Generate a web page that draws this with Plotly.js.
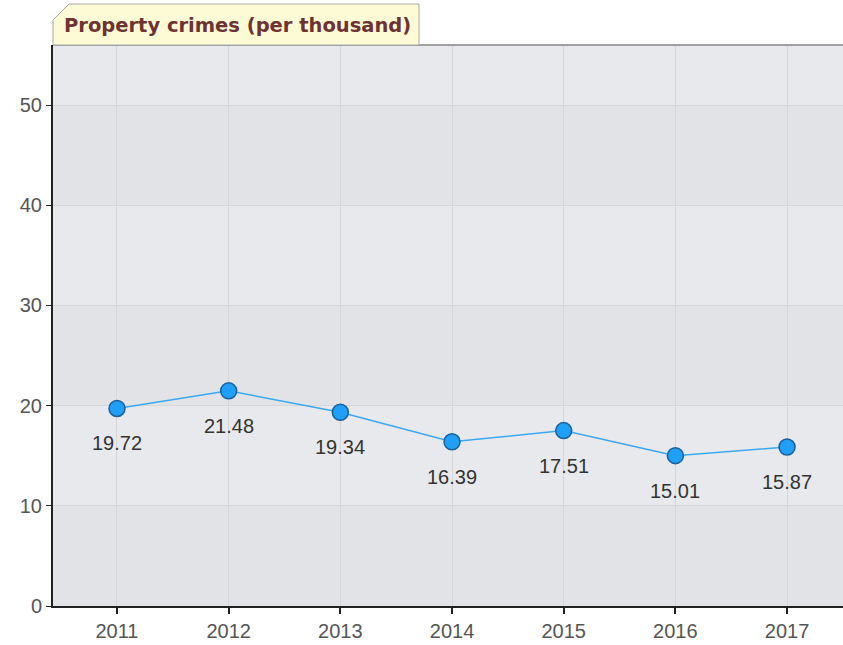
<!DOCTYPE html>
<html>
<head>
<meta charset="utf-8">
<script src="https://cdn.plot.ly/plotly-3.0.1.min.js"></script>
<style>html,body{margin:0;padding:0;background:#fff;}#chart{width:843px;height:645px;}</style>
</head>
<body>
<div id="chart"></div>
<script>
const years = [2011, 2012, 2013, 2014, 2015, 2016, 2017];
const values = [19.72, 21.48, 19.34, 16.39, 17.51, 15.01, 15.87];
const labels = ["19.72", "21.48", "19.34", "16.39", "17.51", "15.01", "15.87"];
const yTicks = [0, 10, 20, 30, 40, 50];
const chartTitle = "Property crimes (per thousand)";

const W = 843, H = 645, L = 53, R = 0, T = 45, B = 39;
const pw = W - L - R, ph = H - T - B;
const px = x => (x - L) / pw;
const py = y => (H - B - y) / ph;

const shapes = [];
[[0,10],[20,30],[40,50]].forEach(b => shapes.push({
  type:'rect', xref:'paper', yref:'y', x0:0, x1:1, y0:b[0], y1:b[1],
  fillcolor:'#e2e3e6', line:{width:0}, layer:'below'
}));
shapes.push({type:'line', xref:'paper', yref:'paper', x0:0, x1:1, y0:1, y1:1, line:{color:'#a0a0a0', width:2}});
const tab = `M ${px(53)},${py(45)} L ${px(53)},${py(20)} L ${px(69)},${py(4)} L ${px(419)},${py(4)} L ${px(419)},${py(45)} Z`;
shapes.push({type:'path', xref:'paper', yref:'paper', path:tab, fillcolor:'#fdfbd5', line:{color:'#a8a8a8', width:1}});

const trace = {
  x: years, y: values,
  type:'scatter', mode:'lines+markers',
  line:{color:'#3aa8f2', width:1.5},
  marker:{size:16, color:'#1f9ff5', line:{color:'#1a5f9e', width:1.5}},
  cliponaxis:false, hoverinfo:'none'
};

const annotations = years.map((yr, i) => ({
  x: yr, y: values[i], xref:'x', yref:'y', text: labels[i],
  showarrow:false, yshift:-35, xanchor:'center', yanchor:'middle',
  font:{family:'Liberation Sans, Arial, sans-serif', size:20, color:'#333333'}
}));
annotations.push({
  text:'<b>'+chartTitle+'</b>', xref:'paper', yref:'paper',
  x:px(62), y:py(25), xanchor:'left', yanchor:'middle', showarrow:false,
  font:{family:'DejaVu Sans, Verdana, sans-serif', size:19.5, color:'#6e3232'}
});

const tickFont = {family:'Liberation Sans, Arial, sans-serif', size:20, color:'#555'};
const layout = {
  width:W, height:H,
  margin:{l:L, r:R, t:T, b:B, pad:0},
  paper_bgcolor:'#ffffff', plot_bgcolor:'#e7e9ec',
  showlegend:false,
  xaxis:{
    range:[2010.427, 2017.501], tickvals:years, ticktext:years.map(String),
    showgrid:true, gridcolor:'#d6d6d6', gridwidth:1,
    showline:true, linecolor:'#222', linewidth:2,
    ticks:'outside', ticklen:6, tickcolor:'#222', tickwidth:2,
    tickfont:tickFont, zeroline:false, fixedrange:true
  },
  yaxis:{
    range:[0, 56], tickvals:yTicks, ticktext:yTicks.map(String),
    showgrid:true, gridcolor:'#d6d6d6', gridwidth:1,
    showline:true, linecolor:'#222', linewidth:2,
    ticks:'outside', ticklen:5, tickcolor:'#222', tickwidth:1,
    tickfont:tickFont, zeroline:false, fixedrange:true
  },
  shapes: shapes,
  annotations: annotations
};

Plotly.newPlot('chart', [trace], layout, {displayModeBar:false, staticPlot:true});
</script>
</body>
</html>
